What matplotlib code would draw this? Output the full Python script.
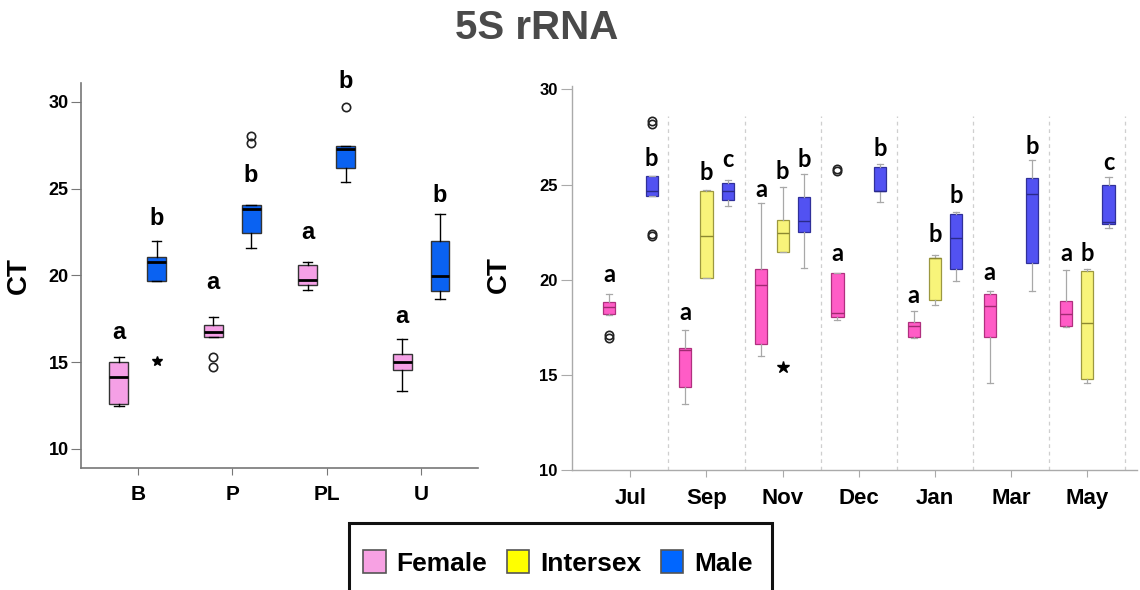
import matplotlib
matplotlib.use("Agg")
import matplotlib.pyplot as plt
from matplotlib.patches import Patch, Rectangle
import numpy as np

plt.rcParams['font.family'] = ['Liberation Sans', 'DejaVu Sans']

# ---- left panel: tissue sites (Female / Male) ----
sites = ['B', 'P', 'PL', 'U']
# (whislo, q1, med, q3, whishi)
site_female = [(12.45, 12.59, 14.16, 14.99, 15.27),
               (16.46, 16.46, 16.71, 17.13, 17.61),
               (19.15, 19.45, 19.72, 20.60, 20.74),
               (13.32, 14.56, 14.99, 15.48, 16.31)]
site_female_out = [[], [15.27, 14.74], [], []]
site_male = [(19.70, 19.70, 20.78, 21.03, 22.00),
             (21.56, 22.44, 23.83, 24.07, 24.07),
             (25.38, 26.20, 27.26, 27.45, 27.45),
             (18.65, 19.11, 19.99, 21.98, 23.56)]
site_male_out = [[], [28.00, 27.62], [29.69], []]
site_male_extreme = [[15.08], [], [], []]
site_female_letters = ['a', 'a', 'a', 'a']
site_female_letter_ct = [16.71, 19.59, 22.48, 17.63]
site_male_letters = ['b', 'b', 'b', 'b']
site_male_letter_ct = [23.29, 25.78, 31.15, 24.59]

# ---- right panel: months (Female / Intersex / Male) ----
months = ['Jul', 'Sep', 'Nov', 'Dec', 'Jan', 'Mar', 'May']
month_female = [(18.13, 18.21, 18.55, 18.83, 19.25),
                (13.45, 14.34, 16.30, 16.43, 17.36),
                (15.99, 16.60, 19.72, 20.56, 24.01),
                (17.86, 18.02, 18.23, 20.35, 20.35),
                (16.95, 17.00, 17.58, 17.79, 18.34),
                (14.55, 17.00, 18.63, 19.25, 19.42),
                (17.50, 17.58, 18.18, 18.88, 20.51)]
month_female_out = [[17.08, 16.96], [], [], [25.82, 25.70], [], [], []]
month_inter = [None,
               (20.07, 20.07, 22.29, 24.66, 24.71),
               (21.47, 21.47, 22.45, 23.15, 24.85),
               None,
               (18.67, 18.93, 21.16, 21.16, 21.30),
               None,
               (14.55, 14.76, 17.71, 20.46, 20.54)]
month_inter_extreme = [[], [], [15.43], [], [], [], []]
month_male = [(24.40, 24.40, 24.68, 25.45, 25.45),
              (23.85, 24.19, 24.68, 25.10, 25.24),
              (20.60, 22.50, 23.10, 24.36, 25.55),
              (24.10, 24.68, 24.68, 25.90, 26.06),
              (19.93, 20.56, 22.17, 23.45, 23.57),
              (19.42, 20.89, 24.50, 25.32, 26.29),
              (22.73, 22.92, 23.05, 24.97, 25.41)]
month_male_out = [[28.32, 28.18, 22.42, 22.32], [], [], [], [], [], []]
month_female_letters = ['a', 'a', 'a', 'a', 'a', 'a', 'a']
month_female_letter_ct = [20.25, 18.27, 24.75, 21.35, 19.19, 20.37, 21.35]
month_inter_letters = [None, 'b', 'b', None, 'b', None, 'b']
month_inter_letter_ct = [None, 25.62, 25.67, None, 22.38, None, 21.35]
month_male_letters = ['b', 'c', 'b', 'b', 'b', 'b', 'c']
month_male_letter_ct = [26.37, 26.32, 26.29, 26.87, 24.40, 27.02, 26.15]

legend_labels = ['Female', 'Intersex', 'Male']


def make_stats(stats, outliers):
    out = []
    for s, o in zip(stats, outliers):
        lo, q1, med, q3, hi = s
        out.append(dict(whislo=lo, q1=q1, med=med, q3=q3, whishi=hi, fliers=o))
    return out


def draw_group(ax, stats, outliers, pos, width, cap, face, edge, med_color,
               whisk_color, lw, med_lw):
    keep = [i for i, s in enumerate(stats) if s is not None]
    bstats = make_stats([stats[i] for i in keep], [outliers[i] for i in keep])
    ax.bxp(bstats, positions=[pos[i] for i in keep], widths=width,
           capwidths=cap, patch_artist=True, manage_ticks=False,
           boxprops=dict(facecolor=face, edgecolor=edge, linewidth=lw),
           medianprops=dict(color=med_color, linewidth=med_lw),
           whiskerprops=dict(color=whisk_color, linewidth=lw),
           capprops=dict(color=whisk_color, linewidth=lw),
           flierprops=dict(marker='o', markerfacecolor='none',
                           markeredgecolor='#222222', markersize=6,
                           markeredgewidth=1.2))


def draw_letters(ax, xs, letters, ys, family, size):
    for x, t, y in zip(xs, letters, ys):
        if t is None:
            continue
        ax.text(x, y, t, ha='center', va='center', fontsize=size,
                fontweight='bold', family=family, color='black')


fig = plt.figure(figsize=(11.4, 5.9), dpi=100)

# ---------- left panel ----------
ax1 = fig.add_axes([0.0711, 0.2068, 0.348, 0.6525])
x = np.arange(len(sites))
off = 0.2
draw_group(ax1, site_female, site_female_out, x - off, 0.2, 0.1,
           '#F5A0E6', '#333333', 'black', 'black', 1.0, 2.0)
draw_group(ax1, site_male, site_male_out, x + off, 0.2, 0.1,
           '#0A62F2', '#333333', 'black', 'black', 1.0, 2.0)
for i, ext in enumerate(site_male_extreme):
    if ext:
        ax1.plot([x[i] + off] * len(ext), ext, linestyle='none', marker='*',
                 color='black', markersize=7)
draw_letters(ax1, x - off, site_female_letters, site_female_letter_ct,
             ['Liberation Sans', 'DejaVu Sans'], 17)
draw_letters(ax1, x + off, site_male_letters, site_male_letter_ct,
             ['Liberation Sans', 'DejaVu Sans'], 17)

ax1.set_xlim(-0.6, 3.6)
ax1.set_ylim(8.9, 31.08)
ax1.set_xticks(x)
ax1.set_xticklabels(sites, fontsize=15, fontweight='bold')
ax1.set_yticks([10, 15, 20, 25, 30])
ax1.set_yticklabels(['10', '15', '20', '25', '30'], fontsize=13,
                    fontweight='bold')
ax1.tick_params(axis='y', direction='out', length=7, color='#777777', pad=2)
ax1.tick_params(axis='x', direction='out', length=5, color='#777777', pad=7)
for s in ['top', 'right']:
    ax1.spines[s].set_visible(False)
for s in ['left', 'bottom']:
    ax1.spines[s].set_color('#777777')
    ax1.spines[s].set_linewidth(1.2)
ax1.set_ylabel('CT', fontsize=20, fontweight='bold')
ax1.yaxis.set_label_coords(-0.123, 0.5)

# ---------- right panel ----------
ax2 = fig.add_axes([0.5015, 0.2034, 0.4956, 0.650])
xm = np.arange(len(months))
off2 = 0.28
ax2.vlines(xm + 0.5, 10, 28.6, colors='#cfcfcf', linestyles=(0, (3, 3)),
           linewidth=0.9, zorder=0)
draw_group(ax2, month_female, month_female_out, xm - off2, 0.16, 0.08,
           '#FF5CC6', '#B0307F', '#A02A72', '#A8A8A8', 0.9, 1.0)
draw_group(ax2, month_inter, [[]] * len(months), xm, 0.16, 0.08,
           '#F8F47A', '#9C9840', '#8C8830', '#A8A8A8', 0.9, 1.0)
draw_group(ax2, month_male, month_male_out, xm + off2, 0.16, 0.08,
           '#5252F2', '#30309A', '#2A2A8A', '#A8A8A8', 0.9, 1.0)
for i, ext in enumerate(month_inter_extreme):
    if ext:
        ax2.plot([xm[i]] * len(ext), ext, linestyle='none', marker='*',
                 color='black', markersize=9)
right_font = ['Lato', 'DejaVu Sans']
draw_letters(ax2, xm - off2, month_female_letters, month_female_letter_ct,
             right_font, 17)
draw_letters(ax2, xm, month_inter_letters, month_inter_letter_ct,
             right_font, 17)
draw_letters(ax2, xm + off2, month_male_letters, month_male_letter_ct,
             right_font, 17)

ax2.set_xlim(-0.77, 6.65)
ax2.set_ylim(10, 30.15)
ax2.set_xticks(xm)
ax2.set_xticklabels(months, fontsize=16, fontweight='bold')
ax2.set_yticks([10, 15, 20, 25, 30])
ax2.set_yticklabels(['10', '15', '20', '25', '30'], fontsize=12,
                    fontweight='bold')
ax2.tick_params(axis='y', direction='out', length=8, color='#AAAAAA', pad=2)
ax2.tick_params(axis='x', direction='out', length=5, color='#AAAAAA', pad=8)
for s in ['top', 'right']:
    ax2.spines[s].set_visible(False)
for s in ['left', 'bottom']:
    ax2.spines[s].set_color('#AAAAAA')
    ax2.spines[s].set_linewidth(1.0)
ax2.set_ylabel('CT', fontsize=20, fontweight='bold')
ax2.yaxis.set_label_coords(-0.106, 0.51)

# ---------- title & legend ----------
fig.text(0.471, 0.953, '5S rRNA', ha='center', va='center', fontsize=29,
         fontweight='bold', color='#4A4A4A')

handles = [Patch(facecolor=c, edgecolor='#555555', linewidth=1.2)
           for c in ['#F7A1E3', '#FFFF00', '#0066FF']]
fig.legend(handles, legend_labels, loc='center', ncol=3,
           bbox_to_anchor=(0.4892, 0.0458), frameon=False,
           prop=dict(size=19, weight='bold'), handlelength=0.86,
           handleheight=0.97, handletextpad=0.4, columnspacing=0.75)
fig.patches.append(Rectangle((349 / 1140, -0.1), 422.7 / 1140,
                             0.1 + (590 - 522.7) / 590,
                             transform=fig.transFigure, fill=False,
                             edgecolor='#111111', linewidth=2.2))

fig.savefig('out.png', dpi=100)
